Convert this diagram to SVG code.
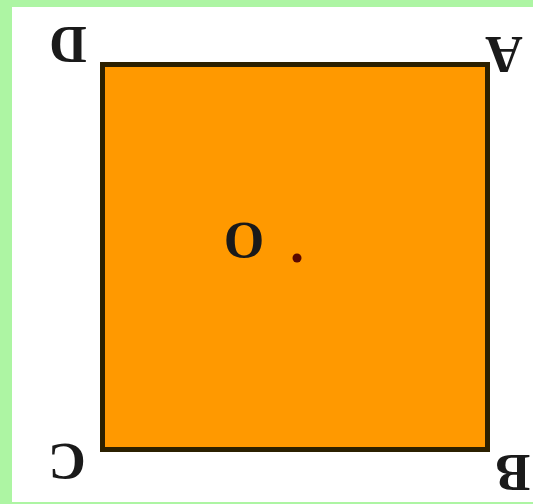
<svg xmlns="http://www.w3.org/2000/svg" width="533" height="504" viewBox="0 0 533 504">
<style>
.lbl{font-family:"Liberation Serif","Times New Roman",serif;font-size:52px;font-weight:bold;fill:#1a1a1a;text-anchor:middle}
</style>
<rect x="0" y="0" width="533" height="504" fill="#adf5a3"/>
<rect x="12" y="7" width="521" height="495" fill="#ffffff"/>
<g id="square">
<rect x="102.5" y="64.5" width="385" height="385" fill="#ff9900" stroke="#2b2000" stroke-width="5"/>
</g>
<g id="center">
<circle cx="297" cy="258" r="4.5" fill="#5a0800"/>
</g>
<g id="label-D"><text class="lbl" transform="rotate(180 68 45)" x="68" y="63">D</text></g>
<g id="label-A"><text class="lbl" transform="rotate(180 504 55)" x="504" y="73">A</text></g>
<g id="label-C"><text class="lbl" transform="rotate(180 67 462)" x="67" y="480">C</text></g>
<g id="label-B"><text class="lbl" transform="rotate(180 513 473)" x="513" y="491">B</text></g>
<g id="label-O"><text class="lbl" transform="rotate(180 244 241)" x="244" y="259">O</text></g>
</svg>
